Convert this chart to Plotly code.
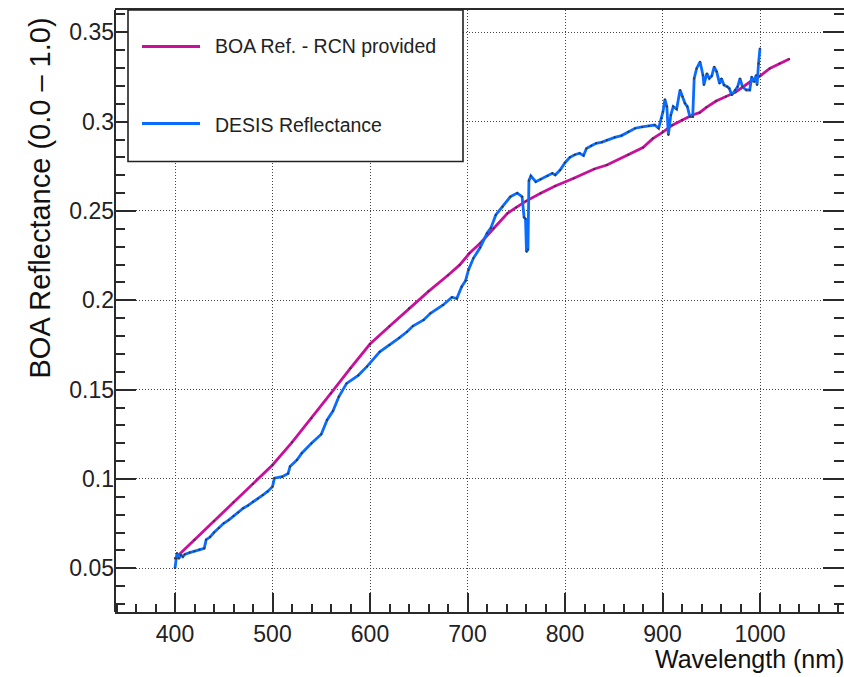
import plotly.graph_objects as go

# ---------------- data ----------------
boa_wavelength = [400, 420, 440, 460, 480, 500, 520, 540, 560, 580, 600, 620, 640, 660, 680,
                  692, 702, 713, 727, 741, 750, 760, 775, 790, 809, 830, 843, 865, 880, 890,
                  900, 910, 920, 930, 938, 945, 955, 965, 975, 990, 1000, 1010, 1020, 1030]
boa_reflectance = [0.0555, 0.0660, 0.0765, 0.0870, 0.0972, 0.1078, 0.1205, 0.1340, 0.1480, 0.1620,
                   0.1755, 0.1855, 0.1955, 0.2050, 0.2140, 0.2198, 0.2263, 0.2319, 0.2403, 0.2487,
                   0.2520, 0.2555, 0.2599, 0.2640, 0.2683, 0.2735, 0.2757, 0.2815, 0.2855, 0.2905,
                   0.2940, 0.2980, 0.3010, 0.3036, 0.3050, 0.3080, 0.3115, 0.3140, 0.3165, 0.3223,
                   0.3255, 0.3298, 0.3325, 0.3350]

desis_wavelength = [400, 401, 402, 404, 406, 408, 410, 415, 420, 425, 430, 432, 436, 440, 445, 450,
                    455, 460, 465, 470, 475, 480, 485, 490, 495, 500, 502, 510, 516, 518, 525, 530,
                    540, 550, 556, 562, 568, 576, 588, 597, 610, 620, 630, 638, 644, 655, 662, 675,
                    684, 689, 694, 698, 701, 706, 713, 720, 724, 729, 736, 744, 751, 756, 758, 759.5,
                    760.5, 762, 763, 765, 770, 775, 782, 787, 790, 795, 800, 805, 810, 815, 819, 822,
                    827, 832, 838, 843, 851, 858, 865, 872, 879, 886, 892, 896, 899, 900.5, 902.5,
                    904.5, 906, 908.5, 911, 914.5, 918, 920.5, 923, 925.5, 928, 931, 932.5, 935,
                    938.5, 941.5, 942.5, 945.5, 948, 950.5, 953, 955.5, 958.5, 960.5, 963, 966.5,
                    968.5, 971, 974.5, 977, 979.5, 982, 986, 989.5, 991.5, 994, 996, 997, 998.5, 1000]
desis_reflectance = [0.0500, 0.0555, 0.0585, 0.0555, 0.0575, 0.0565, 0.0578, 0.0588, 0.0595, 0.0605,
                     0.0612, 0.0660, 0.0675, 0.0700, 0.0725, 0.0752, 0.0770, 0.0793, 0.0812, 0.0836,
                     0.0852, 0.0873, 0.0890, 0.0910, 0.0930, 0.0957, 0.1004, 0.1013, 0.1030, 0.1070,
                     0.1106, 0.1144, 0.1200, 0.1250, 0.1330, 0.1380, 0.1460, 0.1535, 0.1580, 0.1630,
                     0.1712, 0.1750, 0.1790, 0.1824, 0.1856, 0.1890, 0.1927, 0.1974, 0.2017, 0.2010,
                     0.2076, 0.2110, 0.2170, 0.2235, 0.2295, 0.2375, 0.2405, 0.2478, 0.2524, 0.2580,
                     0.2600, 0.2580, 0.2465, 0.2455, 0.2272, 0.2285, 0.2670, 0.2696, 0.2664, 0.2677,
                     0.2696, 0.2711, 0.2701, 0.2729, 0.2770, 0.2800, 0.2815, 0.2823, 0.2810, 0.2850,
                     0.2865, 0.2879, 0.2885, 0.2897, 0.2912, 0.2922, 0.2944, 0.2963, 0.2970, 0.2975,
                     0.2981, 0.2963, 0.3020, 0.3056, 0.3125, 0.3084, 0.2925, 0.3037, 0.3084, 0.3070,
                     0.3177, 0.3140, 0.3103, 0.3084, 0.3028, 0.3028, 0.3242, 0.3298, 0.3335, 0.3260,
                     0.3205, 0.3270, 0.3242, 0.3255, 0.3307, 0.3280, 0.3214, 0.3242, 0.3205, 0.3195,
                     0.3186, 0.3149, 0.3177, 0.3195, 0.3242, 0.3195, 0.3177, 0.3177, 0.3251, 0.3223,
                     0.3260, 0.3205, 0.3326, 0.3410]

x_tick_values = [400, 500, 600, 700, 800, 900, 1000]
x_tick_labels = ["400", "500", "600", "700", "800", "900", "1000"]
y_tick_values = [0.05, 0.10, 0.15, 0.20, 0.25, 0.30, 0.35]
y_tick_labels = ["0.05", "0.1", "0.15", "0.2", "0.25", "0.3", "0.35"]

series_names = ["BOA Ref. - RCN provided", "DESIS Reflectance"]
series_colors = ["#c8109c", "#0a6cff"]

# ---------------- layout geometry (pixels) ----------------
W, H = 844, 677
ML, MR, MT, MB = 115, 0, 10, 65
PW = W - ML - MR
PH = H - MT - MB


def px_x(p):
    return (p - ML) / PW


def px_y(p):
    return (H - MB - p) / PH


FONT = "Liberation Sans, Arial, Helvetica, sans-serif"
AXC = "#2a2a2a"

fig = go.Figure()

fig.add_trace(go.Scatter(
    x=boa_wavelength, y=boa_reflectance, mode="lines+markers", name=series_names[0],
    line=dict(color=series_colors[0], width=2.8),
    marker=dict(size=2, color="#333333"),
    showlegend=False, hoverinfo="skip"))
fig.add_trace(go.Scatter(
    x=desis_wavelength, y=desis_reflectance, mode="lines+markers", name=series_names[1],
    line=dict(color=series_colors[1], width=2.8),
    marker=dict(size=2, color="#333333"),
    showlegend=False, hoverinfo="skip"))

fig.update_layout(
    width=W, height=H,
    margin=dict(l=ML, r=MR, t=MT, b=MB, pad=0),
    paper_bgcolor="white", plot_bgcolor="white",
    font=dict(family=FONT, color="#222222"),
    showlegend=False,
)

fig.update_xaxes(
    range=[338.46, 1086.15],
    tickmode="array", tickvals=x_tick_values, ticktext=x_tick_labels,
    ticks="inside", ticklen=19, tickwidth=1.5, tickcolor=AXC,
    tickfont=dict(size=23, family=FONT, color="#222222"),
    showline=True, linecolor=AXC, linewidth=2, mirror=True,
    showgrid=True, gridcolor="#444444", gridwidth=1, griddash="1px,2px",
    zeroline=False,
    minor=dict(tickmode="linear", tick0=0, dtick=20, ticks="inside", ticklen=8,
               tickwidth=1.5, tickcolor=AXC, showgrid=False),
)
fig.update_yaxes(
    range=[0.02554, 0.36248],
    tickmode="array", tickvals=y_tick_values, ticktext=y_tick_labels,
    ticks="inside", ticklen=21, tickwidth=1.5, tickcolor=AXC,
    tickfont=dict(size=23, family=FONT, color="#222222"),
    showline=False, mirror="ticks",
    showgrid=True, gridcolor="#444444", gridwidth=1, griddash="1px,2px",
    zeroline=False,
    minor=dict(tickmode="linear", tick0=0, dtick=0.01, ticks="inside", ticklen=10,
               tickwidth=1.5, tickcolor=AXC, showgrid=False),
)

shapes = []
# left axis line
shapes.append(dict(type="line", xref="paper", yref="paper", x0=0, x1=0, y0=0, y1=1,
                   line=dict(color=AXC, width=2), layer="above"))
# legend box
shapes.append(dict(type="rect", xref="paper", yref="paper",
                   x0=px_x(128), x1=px_x(463), y0=px_y(161.5), y1=px_y(10),
                   fillcolor="white", line=dict(color="#222222", width=1.6), layer="above"))
# legend sample lines
for yy, col in [(46.5, series_colors[0]), (123.5, series_colors[1])]:
    shapes.append(dict(type="line", xref="paper", yref="paper",
                       x0=px_x(142), x1=px_x(200), y0=px_y(yy), y1=px_y(yy),
                       line=dict(color=col, width=2.8), layer="above"))
fig.update_layout(shapes=shapes)

annotations = []
for yy, name in [(46.5, series_names[0]), (124.5, series_names[1])]:
    annotations.append(dict(xref="paper", yref="paper", x=px_x(213), y=px_y(yy),
                            xanchor="left", yanchor="middle", showarrow=False,
                            text=name, font=dict(size=19.5, family=FONT, color="#222222")))
# y-axis title
annotations.append(dict(xref="paper", yref="paper", x=px_x(40), y=px_y(16),
                        xanchor="center", yanchor="top", showarrow=False, textangle=-90,
                        text="BOA Reflectance (0.0 \u2013 1.0)",
                        font=dict(size=29, family=FONT, color="#111111")))
# x-axis title
annotations.append(dict(xref="paper", yref="paper", x=px_x(846), y=px_y(659),
                        xanchor="right", yanchor="middle", showarrow=False,
                        text="Wavelength (nm)",
                        font=dict(size=25, family=FONT, color="#111111")))
fig.update_layout(annotations=annotations)

fig.write_html(
    "out.html",
    config={"displayModeBar": False},
    post_script="document.body.style.margin='0';document.body.style.padding='0';"
                "document.documentElement.style.overflow='hidden';",
)
